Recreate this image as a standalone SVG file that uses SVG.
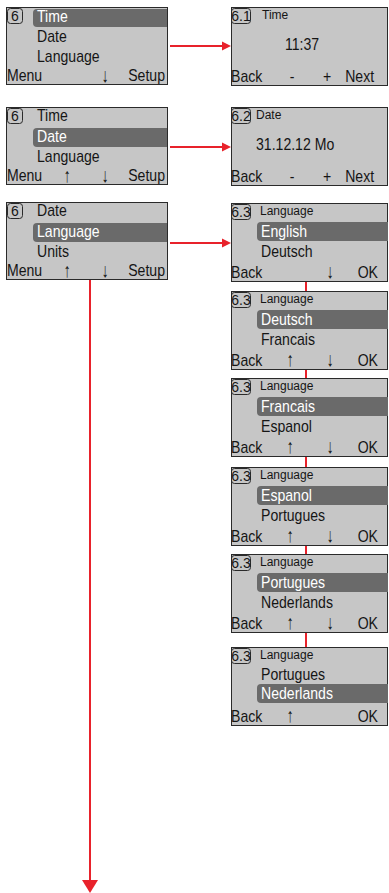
<svg xmlns="http://www.w3.org/2000/svg" width="389" height="893" viewBox="0 0 389 893">
<style>
.box{fill:#c6c6c6;stroke:#2a2a2a;stroke-width:1}
.lb{fill:none;stroke:#2a2a2a;stroke-width:1}
.hl{fill:#6a6a6a}
.t{font-family:"Liberation Sans","DejaVu Sans",Arial,sans-serif;font-size:16px;fill:#151515;transform-box:fill-box;transform-origin:0 0;transform:scaleX(0.88)}
.e{text-anchor:end;transform-origin:100% 0}
.m{text-anchor:middle;transform-origin:50% 0}
.w{fill:#ffffff}
.s{font-family:"Liberation Sans","DejaVu Sans",Arial,sans-serif;font-size:12px;fill:#151515}
.n{font-family:"Liberation Sans","DejaVu Sans",Arial,sans-serif;font-size:14px;fill:#151515;text-anchor:middle}
.a{font-family:"Liberation Sans","DejaVu Sans",sans-serif;font-size:20px;font-weight:300;fill:#151515;text-anchor:middle;transform-box:fill-box;transform-origin:50% 50%;transform:scaleX(0.7)}
.c{stroke:#e8222b;stroke-width:2;fill:none}
.h{fill:#e8222b}
</style>

<g id="connectors">
  <line class="c" x1="170" y1="46" x2="224" y2="46"/>
  <polygon class="h" points="222,41.5 231,46 222,50.5"/>
  <line class="c" x1="170" y1="147" x2="224" y2="147"/>
  <polygon class="h" points="222,142.5 231,147 222,151.5"/>
  <line class="c" x1="170" y1="243" x2="224" y2="243"/>
  <polygon class="h" points="222,238.5 231,243 222,247.5"/>
  <line class="c" x1="306" y1="281" x2="306" y2="291"/>
  <line class="c" x1="306" y1="369" x2="306" y2="378"/>
  <line class="c" x1="306" y1="456" x2="306" y2="467"/>
  <line class="c" x1="306" y1="545" x2="306" y2="554"/>
  <line class="c" x1="306" y1="632" x2="306" y2="647"/>
  <line class="c" x1="90" y1="279" x2="90" y2="882"/>
  <polygon class="h" points="82,880 98,880 90,893"/>
</g>

<g id="menu-time">
  <rect class="box" x="6.5" y="7.5" width="161" height="77"/>
  <path class="hl" d="M167,9 H37 A4,4 0 0 0 33,13 V23 A4,4 0 0 0 37,27 H167 Z"/>
  <rect class="lb" x="7.5" y="8.5" width="15" height="15" rx="3"/>
  <text class="n" x="15" y="21">6</text>
  <text class="t w" x="37" y="22">Time</text>
  <text class="t" x="37" y="42">Date</text>
  <text class="t" x="37" y="62">Language</text>
  <text class="t" x="7" y="81.5">Menu</text>
  <text class="a" x="105" y="82">↓</text>
  <text class="t e" x="165" y="81.5">Setup</text>
</g>

<g id="menu-date">
  <rect class="box" x="6.5" y="107.5" width="161" height="77"/>
  <path class="hl" d="M167,128 H37 A4,4 0 0 0 33,132 V143 A4,4 0 0 0 37,147 H167 Z"/>
  <rect class="lb" x="7.5" y="108.5" width="15" height="15" rx="3"/>
  <text class="n" x="15" y="121">6</text>
  <text class="t" x="37" y="121">Time</text>
  <text class="t w" x="37" y="142">Date</text>
  <text class="t" x="37" y="162">Language</text>
  <text class="t" x="7" y="181.5">Menu</text>
  <text class="a" x="67" y="182">↑</text>
  <text class="a" x="105" y="182">↓</text>
  <text class="t e" x="165" y="181.5">Setup</text>
</g>

<g id="menu-language">
  <rect class="box" x="6.5" y="202.5" width="161" height="77"/>
  <path class="hl" d="M167,223 H37 A4,4 0 0 0 33,227 V238 A4,4 0 0 0 37,242 H167 Z"/>
  <rect class="lb" x="7.5" y="203.5" width="15" height="15" rx="3"/>
  <text class="n" x="15" y="216">6</text>
  <text class="t" x="37" y="216">Date</text>
  <text class="t w" x="37" y="237">Language</text>
  <text class="t" x="37" y="257">Units</text>
  <text class="t" x="7" y="276.5">Menu</text>
  <text class="a" x="67" y="277">↑</text>
  <text class="a" x="105" y="277">↓</text>
  <text class="t e" x="165" y="276.5">Setup</text>
</g>

<g id="screen-6-1">
  <rect class="box" x="231.5" y="7.5" width="156" height="78"/>
  <rect class="lb" x="231.5" y="8.5" width="19" height="15" rx="3"/>
  <text class="n" x="241" y="21">6.1</text>
  <text class="s" x="262" y="19">Time</text>
  <text class="t m" x="302" y="50">11:37</text>
  <text class="t" x="231" y="82">Back</text>
  <text class="t m" x="292" y="82">-</text>
  <text class="t m" x="327" y="82">+</text>
  <text class="t e" x="374" y="82">Next</text>
</g>

<g id="screen-6-2">
  <rect class="box" x="231.5" y="107.5" width="156" height="78"/>
  <rect class="lb" x="231.5" y="108.5" width="19" height="15" rx="3"/>
  <text class="n" x="241" y="121">6.2</text>
  <text class="s" x="256" y="119">Date</text>
  <text class="t" x="256" y="150">31.12.12 Mo</text>
  <text class="t" x="231" y="182">Back</text>
  <text class="t m" x="292" y="182">-</text>
  <text class="t m" x="327" y="182">+</text>
  <text class="t e" x="374" y="182">Next</text>
</g>

<g id="screen-6-3-english">
  <rect class="box" x="231.5" y="203.5" width="156" height="78"/>
  <path class="hl" d="M388,222 H261 A4,4 0 0 0 257,226 V237 A4,4 0 0 0 261,241 H388 Z"/>
  <rect class="lb" x="231.5" y="204.5" width="19" height="15" rx="3"/>
  <text class="n" x="241" y="217">6.3</text>
  <text class="s" x="260" y="215">Language</text>
  <text class="t w" x="261" y="237">English</text>
  <text class="t" x="261" y="257">Deutsch</text>
  <text class="t" x="231" y="278">Back</text>
  <text class="a" x="330" y="278.5">↓</text>
  <text class="t e" x="378" y="278">OK</text>
</g>

<g id="screen-6-3-deutsch">
  <rect class="box" x="231.5" y="291.5" width="156" height="78"/>
  <path class="hl" d="M388,310 H261 A4,4 0 0 0 257,314 V325 A4,4 0 0 0 261,329 H388 Z"/>
  <rect class="lb" x="231.5" y="292.5" width="19" height="15" rx="3"/>
  <text class="n" x="241" y="305">6.3</text>
  <text class="s" x="260" y="303">Language</text>
  <text class="t w" x="261" y="325">Deutsch</text>
  <text class="t" x="261" y="345">Francais</text>
  <text class="t" x="231" y="366">Back</text>
  <text class="a" x="290" y="366.5">↑</text>
  <text class="a" x="330" y="366.5">↓</text>
  <text class="t e" x="378" y="366">OK</text>
</g>

<g id="screen-6-3-francais">
  <rect class="box" x="231.5" y="378.5" width="156" height="78"/>
  <path class="hl" d="M388,397 H261 A4,4 0 0 0 257,401 V412 A4,4 0 0 0 261,416 H388 Z"/>
  <rect class="lb" x="231.5" y="379.5" width="19" height="15" rx="3"/>
  <text class="n" x="241" y="392">6.3</text>
  <text class="s" x="260" y="390">Language</text>
  <text class="t w" x="261" y="412">Francais</text>
  <text class="t" x="261" y="432">Espanol</text>
  <text class="t" x="231" y="453">Back</text>
  <text class="a" x="290" y="453.5">↑</text>
  <text class="a" x="330" y="453.5">↓</text>
  <text class="t e" x="378" y="453">OK</text>
</g>

<g id="screen-6-3-espanol">
  <rect class="box" x="231.5" y="467.5" width="156" height="78"/>
  <path class="hl" d="M388,486 H261 A4,4 0 0 0 257,490 V501 A4,4 0 0 0 261,505 H388 Z"/>
  <rect class="lb" x="231.5" y="468.5" width="19" height="15" rx="3"/>
  <text class="n" x="241" y="481">6.3</text>
  <text class="s" x="260" y="479">Language</text>
  <text class="t w" x="261" y="501">Espanol</text>
  <text class="t" x="261" y="521">Portugues</text>
  <text class="t" x="231" y="542">Back</text>
  <text class="a" x="290" y="542.5">↑</text>
  <text class="a" x="330" y="542.5">↓</text>
  <text class="t e" x="378" y="542">OK</text>
</g>

<g id="screen-6-3-portugues">
  <rect class="box" x="231.5" y="554.5" width="156" height="78"/>
  <path class="hl" d="M388,573 H261 A4,4 0 0 0 257,577 V588 A4,4 0 0 0 261,592 H388 Z"/>
  <rect class="lb" x="231.5" y="555.5" width="19" height="15" rx="3"/>
  <text class="n" x="241" y="568">6.3</text>
  <text class="s" x="260" y="566">Language</text>
  <text class="t w" x="261" y="588">Portugues</text>
  <text class="t" x="261" y="608">Nederlands</text>
  <text class="t" x="231" y="629">Back</text>
  <text class="a" x="290" y="629.5">↑</text>
  <text class="a" x="330" y="629.5">↓</text>
  <text class="t e" x="378" y="629">OK</text>
</g>

<g id="screen-6-3-nederlands">
  <rect class="box" x="231.5" y="647.5" width="156" height="78"/>
  <path class="hl" d="M388,684 H261 A4,4 0 0 0 257,688 V699 A4,4 0 0 0 261,703 H388 Z"/>
  <rect class="lb" x="231.5" y="648.5" width="19" height="15" rx="3"/>
  <text class="n" x="241" y="661">6.3</text>
  <text class="s" x="260" y="659">Language</text>
  <text class="t" x="261" y="680">Portugues</text>
  <text class="t w" x="261" y="699">Nederlands</text>
  <text class="t" x="231" y="722">Back</text>
  <text class="a" x="290" y="722.5">↑</text>
  <text class="t e" x="378" y="722">OK</text>
</g>
</svg>
